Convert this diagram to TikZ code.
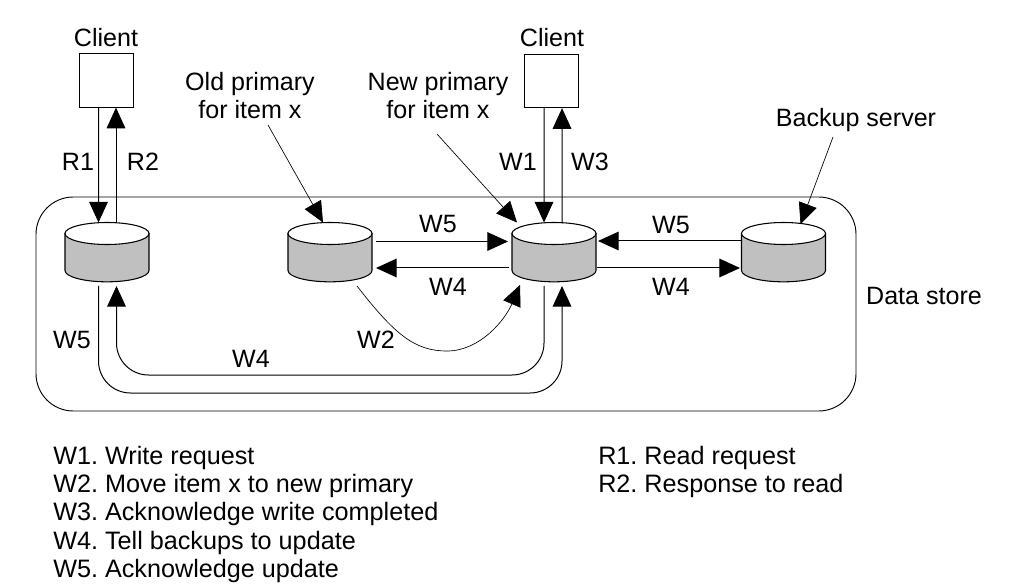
\documentclass[tikz,border=0pt]{standalone}
\usepackage{fontspec}
\setmainfont{Liberation Sans}
\frenchspacing
\usetikzlibrary{arrows.meta}
\definecolor{bodygray}{HTML}{C0C0C0}
\tikzstyle{datastore} =[draw, rounded corners=28pt, inner sep=0pt, minimum width=615pt, minimum height=160.5pt, line width=0.7pt]
\tikzstyle{client} =[draw, rectangle, inner sep=0pt, minimum width=40.5pt, minimum height=40pt, line width=0.7pt]
\tikzstyle{server} =[rectangle, inner sep=0pt, minimum width=63pt, minimum height=44pt]
\tikzstyle{serverline} =[draw, line width=0.8pt]
\tikzstyle{lbl} =[anchor=base, inner sep=0pt, yshift=-1.2pt, font=\fontsize{18.8}{21}\selectfont]
\tikzstyle{legend} =[anchor=base west, inner sep=0pt, font=\fontsize{18.9}{21}\selectfont]
\tikzstyle{msg} =[line width=0.75pt, -{Triangle[length=15.5pt,width=14pt]}]
\tikzstyle{pointer} =[line width=0.5pt, -{Triangle[length=15.5pt,width=14pt]}]

\begin{document}
\begin{tikzpicture}[x=0.75pt,y=-0.75pt]
		\useasboundingbox (0,0) rectangle (1012,584);
		\node[datastore](store) at (446,304) {};
		\node[client](clientA) at (106,80.5) {};
		\node[client](clientB) at (551.5,81) {};
		\node[server](dbA) at (107,252.5) {};
		\node[server](dbB) at (330,252.5) {};
		\node[server](dbC) at (554,252.5) {};
		\node[server](dbD) at (783.5,252.5) {};
		\foreach \db in {dbA,dbB,dbC,dbD} {
			\draw[serverline, fill=bodygray] ([shift={(-42,-19)}]\db.center) -- ++(0,37) arc[start angle=180, end angle=360, x radius=31.5pt, y radius=8.5pt] -- ++(0,-37) -- cycle;
			\draw[serverline, fill=white] ([shift={(0,-19)}]\db.center) ellipse [x radius=31.5pt, y radius=8.25pt];
		}

		\node[lbl](clientAtxt) at (106,45) {Client};
		\node[lbl](clientBtxt) at (552,44.5) {Client};
		\node[lbl, anchor=center, align=center](oldtxt) at (250,93.5) {Old primary\\for item x};
		\node[lbl, anchor=center, align=center](newtxt) at (438,94) {New primary\\for item x};
		\node[lbl](backuptxt) at (856,125) {Backup server};
		\node[lbl](storetxt) at (924,303) {Data store};

		\coordinate (oldfrom) at (268,125);
		\coordinate (newfrom) at (437,134);
		\coordinate (backupfrom) at (833,137);
		\draw[pointer] (oldfrom) -- ([shift={(-7,-30)}]dbB.center);
		\draw[pointer] (newfrom) -- ([shift={(-37,-30)}]dbC.center);
		\draw[pointer] (backupfrom) -- ([shift={(17,-28.5)}]dbD.center);

		\draw[msg] ([xshift=-5.6pt]clientA.south) -- ([shift={(-8.5,-30)}]dbA.center);
		\draw[msg] ([shift={(9,-29)}]dbA.center) -- ([xshift=7.5pt]clientA.south);
		\draw[msg] ([xshift=-5.6pt]clientB.south) -- ([shift={(-10,-30)}]dbC.center);
		\draw[msg] ([shift={(8,-29)}]dbC.center) -- ([xshift=7.9pt]clientB.south);
		\node[lbl](rone) at (78,169) {R1};
		\node[lbl](rtwo) at (143,169) {R2};
		\node[lbl](wone) at (518,169) {W1};
		\node[lbl](wthree) at (590,169) {W3};

		\draw[msg] ([shift={(46,-11)}]dbB.center) -- ([shift={(-46,-11)}]dbC.center);
		\draw[msg] ([shift={(-45,15.5)}]dbC.center) -- ([shift={(46,15.5)}]dbB.center);
		\draw[msg] ([shift={(-42.5,-11.5)}]dbD.center) -- ([shift={(44,-11.5)}]dbC.center);
		\draw[msg] ([shift={(43,15.5)}]dbC.center) -- ([shift={(-43.5,15.5)}]dbD.center);
		\node[lbl](wfivea) at (438,231) {W5};
		\node[lbl](wfoura) at (448,294) {W4};
		\node[lbl](wfiveb) at (671,232) {W5};
		\node[lbl](wfourb) at (671,294) {W4};

		\draw[pointer] ([shift={(27,33.5)}]dbB.center) .. controls (395,335) and (415,351) .. (447,351) .. controls (480,351) and (505,320) .. ([shift={(-34,32.5)}]dbC.center);
		\node[lbl](wtwo) at (376,347) {W2};

		\coordinate (lowout) at (330,393);
		\coordinate (lowin) at (330,375);
		\draw[msg, rounded corners=24pt] ([shift={(-8.5,33.5)}]dbA.center) |- (lowout) -| ([shift={(8,33.5)}]dbC.center);
		\draw[msg, rounded corners=24pt] ([shift={(-10,33.5)}]dbC.center) |- (lowin) -| ([shift={(9.5,33.5)}]dbA.center);
		\node[lbl](wfivec) at (72,347) {W5};
		\node[lbl](wfourc) at (251,366) {W4};

		\foreach \n/\y/\txt in {a/464/W1. Write request, b/492/W2. Move item x to new primary, c/520.5/W3. Acknowledge write completed, d/549/W4. Tell backups to update, e/577/W5. Acknowledge update}
			\node[legend](legW\n) at (53,\y) {\txt};
		\foreach \n/\y/\txt in {a/464/R1. Read request, b/492/R2. Response to read}
			\node[legend](legR\n) at (598,\y) {\txt};
	\end{tikzpicture}
\end{document}
